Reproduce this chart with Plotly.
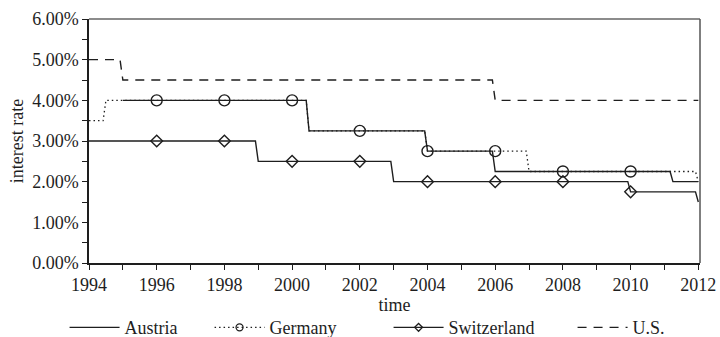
import numpy as np
import plotly.graph_objects as go

# Policy-rate step changes: (year the rate takes effect, rate in %)
austria_steps = [(1995.0, 4.00), (2000.5, 3.25), (2004.0, 2.75), (2006.0, 2.25), (2011.25, 2.00)]
germany_steps = [(1994.0, 3.50), (1994.5, 4.00), (2000.5, 3.25), (2004.0, 2.75), (2007.0, 2.25), (2012.0, 2.00)]
switzerland_steps = [(1994.0, 3.00), (1999.0, 2.50), (2003.0, 2.00), (2010.0, 1.75), (2012.0, 1.50)]
us_steps = [(1994.0, 5.00), (1995.0, 4.50), (2006.0, 4.00)]

marker_years = [1996, 1998, 2000, 2002, 2004, 2006, 2008, 2010]
x_tick_years = list(range(1994, 2013, 2))
y_tick_values = [0, 1, 2, 3, 4, 5, 6]

# monthly observation grid
months = np.round(1994 + np.arange(0, 18 * 12 + 1) / 12, 4)


def monthly(steps):
    """Hold each rate from its effective date until the next change."""
    xs, ys = [], []
    for t in months:
        val = None
        for start, rate in steps:
            if t >= start - 1e-6:
                val = rate
        if val is not None:
            xs.append(float(t))
            ys.append(val)
    return xs, ys


def at_years(steps, years):
    xs, ys = monthly(steps)
    lookup = dict(zip(xs, ys))
    return years, [lookup[float(y)] for y in years]


INK = "#1e1e1e"
FONT = "Liberation Serif"
FS = 18

fig = go.Figure()

ax, ay = monthly(austria_steps)
gx, gy = monthly(germany_steps)
sx, sy = monthly(switzerland_steps)
ux, uy = monthly(us_steps)

US_DASH = "9px,7px"
DOT = "1.5px,3px"

fig.add_trace(go.Scatter(x=ux, y=uy, mode="lines", showlegend=False,
                         line=dict(color=INK, width=1.4, dash=US_DASH)))
fig.add_trace(go.Scatter(x=gx, y=gy, mode="lines", showlegend=False,
                         line=dict(color=INK, width=1.3, dash=DOT)))
fig.add_trace(go.Scatter(x=ax, y=ay, mode="lines", showlegend=False,
                         line=dict(color=INK, width=1.4)))
fig.add_trace(go.Scatter(x=sx, y=sy, mode="lines", showlegend=False,
                         line=dict(color=INK, width=1.4)))

# biennial markers
mgx, mgy = at_years(germany_steps, marker_years)
msx, msy = at_years(switzerland_steps, marker_years)
fig.add_trace(go.Scatter(x=mgx, y=mgy, mode="markers", showlegend=False,
                         marker=dict(symbol="circle-open", size=11, color=INK,
                                     line=dict(width=1.4, color=INK))))
fig.add_trace(go.Scatter(x=msx, y=msy, mode="markers", showlegend=False,
                         marker=dict(symbol="diamond-open", size=9, color=INK,
                                     line=dict(width=1.4, color=INK))))

# legend entries
fig.add_trace(go.Scatter(x=[None], y=[None], mode="lines", name="Austria",
                         legendwidth=80, line=dict(color=INK, width=1.4)))
fig.add_trace(go.Scatter(x=[None], y=[None], mode="lines+markers", name="Germany",
                         legendwidth=114,
                         line=dict(color=INK, width=1.3, dash=DOT),
                         marker=dict(symbol="circle-open", size=7, color=INK,
                                     line=dict(width=1.3, color=INK))))
fig.add_trace(go.Scatter(x=[None], y=[None], mode="lines+markers", name="Switzerland",
                         legendwidth=119,
                         line=dict(color=INK, width=1.4),
                         marker=dict(symbol="diamond-open", size=6, color=INK,
                                     line=dict(width=1.3, color=INK))))
fig.add_trace(go.Scatter(x=[None], y=[None], mode="lines", name="U.S.",
                         legendwidth=40,
                         line=dict(color=INK, width=1.4, dash=US_DASH)))

fig.update_layout(
    width=720, height=337,
    margin=dict(l=89, r=20, t=19, b=74, autoexpand=False),
    paper_bgcolor="white", plot_bgcolor="white",
    font=dict(family=FONT, size=FS, color=INK),
    legend=dict(orientation="h", x=-0.04, xanchor="left", y=-0.265, yanchor="middle",
                itemwidth=50, font=dict(family=FONT, size=FS, color=INK),
                bgcolor="rgba(0,0,0,0)", traceorder="normal", tracegroupgap=0),
)

fig.update_xaxes(
    range=[1994, 2012.05], tickmode="array", tickvals=x_tick_years,
    ticktext=[str(y) for y in x_tick_years],
    ticks="outside", ticklen=5, tickwidth=1.2, tickcolor=INK,
    minor=dict(dtick=1, tick0=1994, ticks="outside", ticklen=5, tickwidth=1.2, tickcolor=INK),
    showline=True, linecolor=INK, linewidth=1.5, mirror=False,
    showgrid=False, zeroline=False, automargin=False,
    title=dict(text="time", standoff=0, font=dict(family=FONT, size=FS)),
)
fig.update_yaxes(
    range=[0, 6], tickmode="array", tickvals=y_tick_values,
    ticktext=[f"{v:.2f}%" for v in y_tick_values],
    ticks="outside", ticklen=5, tickwidth=1.2, tickcolor=INK,
    minor=dict(dtick=0.5, tick0=0, ticks="outside", ticklen=5, tickwidth=1.2, tickcolor=INK),
    showline=True, linecolor=INK, linewidth=1.5, mirror=False,
    showgrid=False, zeroline=False, automargin=False,
    title=dict(text="interest rate", standoff=4, font=dict(family=FONT, size=FS)),
)

# frame on the top and right edges
fig.add_shape(type="line", xref="paper", yref="paper", x0=0, x1=1, y0=1, y1=1,
              line=dict(color="#666666", width=1.5))
fig.add_shape(type="line", xref="paper", yref="paper", x0=1, x1=1, y0=0, y1=1,
              line=dict(color="#555555", width=1.5))

fig.write_html("out.html")
